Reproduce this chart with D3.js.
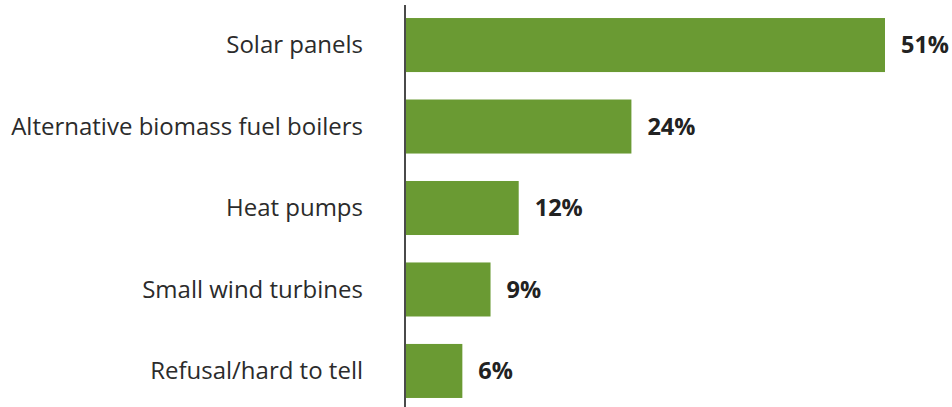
<!DOCTYPE html>
<html>
<head>
<meta charset="utf-8">
<script src="https://cdn.jsdelivr.net/npm/d3@7"></script>
<style>
  html, body { margin: 0; padding: 0; background: #fff; }
  svg { display: block; }
</style>
</head>
<body>
<svg id="chart" width="952" height="407"></svg>
<script>
// Renewable technologies and share of respondents (%)
const categories = [
  "Solar panels",
  "Alternative biomass fuel boilers",
  "Heat pumps",
  "Small wind turbines",
  "Refusal/hard to tell"
];
const values = [51, 24, 12, 9, 6];

const svg = d3.select("#chart");
const W = 952, H = 407;
const axisX = 405;

const x = d3.scaleLinear().domain([0, 51]).range([axisX + 1, 885]);
const y = d3.scaleBand()
  .domain(categories)
  .range([4.3, 411.7])
  .paddingInner(0.337)
  .paddingOuter(0.1685);

const font = "'Open Sans', 'Noto Sans', sans-serif";

// bars
svg.append("g").selectAll("rect")
  .data(categories)
  .join("rect")
  .attr("x", x(0))
  .attr("y", d => y(d))
  .attr("width", (d, i) => x(values[i]) - x(0))
  .attr("height", y.bandwidth())
  .attr("fill", "#6a9a33");

// value labels
svg.append("g").selectAll("text")
  .data(categories)
  .join("text")
  .attr("x", (d, i) => x(values[i]) + 16)
  .attr("y", d => y(d) + y.bandwidth() / 2)
  .attr("dy", "0.35em")
  .attr("font-family", font)
  .attr("font-weight", 700)
  .attr("font-size", 23.5)
  .attr("fill", "#222")
  .text((d, i) => values[i] + "%");

// category labels
svg.append("g").selectAll("text")
  .data(categories)
  .join("text")
  .attr("x", axisX - 42)
  .attr("y", d => y(d) + y.bandwidth() / 2)
  .attr("dy", "0.35em")
  .attr("text-anchor", "end")
  .attr("font-family", font)
  .attr("font-size", 24)
  .attr("fill", "#2b2b2b")
  .text(d => d);

// vertical baseline
svg.append("line")
  .attr("x1", axisX).attr("x2", axisX)
  .attr("y1", 5).attr("y2", H)
  .attr("stroke", "#4a4a4a")
  .attr("stroke-width", 2);
</script>
</body>
</html>
